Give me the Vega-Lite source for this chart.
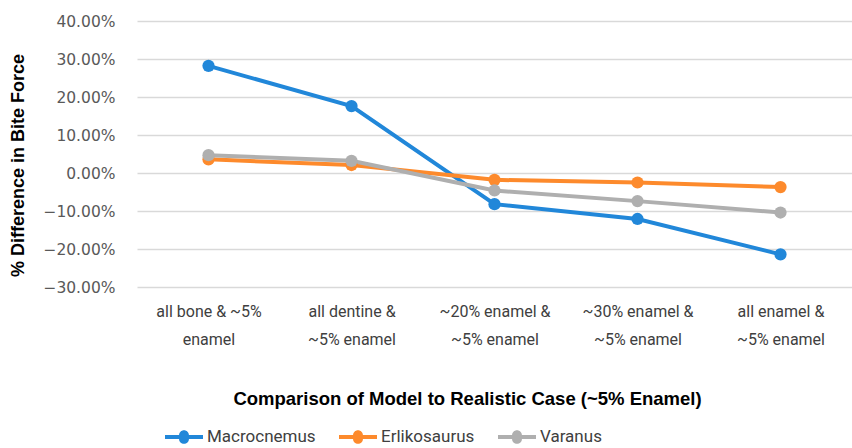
{
  "$schema": "https://vega.github.io/schema/vega-lite/v6.json",
  "width": 715,
  "height": 266,
  "autosize": {"type": "none"},
  "padding": {"left": 137, "top": 21, "right": 0, "bottom": 161},
  "background": "white",
  "config": {"view": {"stroke": null}},
  "data": {
    "values": [
      {"case": "all bone & ~5% enamel", "species": "Macrocnemus", "diff": 0.282},
      {"case": "all dentine & ~5% enamel", "species": "Macrocnemus", "diff": 0.176},
      {"case": "~20% enamel & ~5% enamel", "species": "Macrocnemus", "diff": -0.082},
      {"case": "~30% enamel & ~5% enamel", "species": "Macrocnemus", "diff": -0.121},
      {"case": "all enamel & ~5% enamel", "species": "Macrocnemus", "diff": -0.214},
      {"case": "all bone & ~5% enamel", "species": "Erlikosaurus", "diff": 0.036},
      {"case": "all dentine & ~5% enamel", "species": "Erlikosaurus", "diff": 0.021},
      {"case": "~20% enamel & ~5% enamel", "species": "Erlikosaurus", "diff": -0.018},
      {"case": "~30% enamel & ~5% enamel", "species": "Erlikosaurus", "diff": -0.025},
      {"case": "all enamel & ~5% enamel", "species": "Erlikosaurus", "diff": -0.037},
      {"case": "all bone & ~5% enamel", "species": "Varanus", "diff": 0.047},
      {"case": "all dentine & ~5% enamel", "species": "Varanus", "diff": 0.032},
      {"case": "~20% enamel & ~5% enamel", "species": "Varanus", "diff": -0.046},
      {"case": "~30% enamel & ~5% enamel", "species": "Varanus", "diff": -0.074},
      {"case": "all enamel & ~5% enamel", "species": "Varanus", "diff": -0.104}
    ]
  },
  "mark": {"type": "line", "strokeWidth": 4, "point": {"filled": true, "size": 150, "opacity": 1}},
  "encoding": {
    "x": {
      "field": "case",
      "type": "nominal",
      "sort": null,
      "scale": {"paddingOuter": 0.5, "paddingInner": 0},
      "axis": {
        "title": "Comparison of Model to Realistic Case (~5% Enamel)",
        "titleFont": "Liberation Sans",
        "titleFontSize": 18.5,
        "titleFontWeight": "bold",
        "titleColor": "#000000",
        "titleX": 330,
        "titleY": 111,
        "titleBaseline": "middle",
        "labelAngle": 0,
        "labelFont": "Roboto",
        "labelFontSize": 16,
        "labelColor": "#404040",
        "labelLineHeight": 28,
        "labelPadding": 16,
        "labelBaseline": "top",
        "labelLimit": 200,
        "labelExpr": "datum.value === 'all bone & ~5% enamel' ? ['all bone & ~5%', 'enamel'] : datum.value === 'all dentine & ~5% enamel' ? ['all dentine &', '~5% enamel'] : datum.value === '~20% enamel & ~5% enamel' ? ['~20% enamel &', '~5% enamel'] : datum.value === '~30% enamel & ~5% enamel' ? ['~30% enamel &', '~5% enamel'] : ['all enamel &', '~5% enamel']",
        "domain": false,
        "ticks": false,
        "grid": false
      }
    },
    "y": {
      "field": "diff",
      "type": "quantitative",
      "scale": {"domain": [-0.3, 0.4], "nice": false, "zero": false},
      "axis": {
        "title": "% Difference  in Bite Force",
        "titleFont": "Liberation Sans",
        "titleFontSize": 18,
        "titleFontWeight": "bold",
        "titleColor": "#000000",
        "titleAngle": 270,
        "titleX": -119,
        "titleY": 144,
        "titleAlign": "center",
        "titleBaseline": "middle",
        "format": ".2%",
        "values": [-0.3, -0.2, -0.1, 0, 0.1, 0.2, 0.3, 0.4],
        "labelFont": "DejaVu Sans",
        "labelFontSize": 15.5,
        "labelColor": "#595959",
        "labelPadding": 22,
        "domain": false,
        "ticks": false,
        "gridColor": "#d9d9d9",
        "gridWidth": 1.5
      }
    },
    "color": {
      "field": "species",
      "type": "nominal",
      "sort": ["Macrocnemus", "Erlikosaurus", "Varanus"],
      "scale": {"domain": ["Macrocnemus", "Erlikosaurus", "Varanus"], "range": ["#2187d9", "#fd8a2c", "#afafaf"]},
      "legend": {
        "title": null,
        "orient": "none",
        "direction": "horizontal",
        "legendX": 28,
        "legendY": 397,
        "symbolType": "M-1,-0.1L-0.26,-0.1A0.26,0.26 0 0 1 0.26,-0.1L1,-0.1L1,0.1L0.26,0.1A0.26,0.26 0 0 1 -0.26,0.1L-1,0.1Z",
        "symbolSize": 1444,
        "symbolStrokeWidth": 0,
        "labelFont": "Roboto",
        "labelFontSize": 17,
        "labelColor": "#404040",
        "labelOffset": 4,
        "columnPadding": 23,
        "encode": {
          "symbols": {"update": {"fill": {"scale": "color", "field": "value"}, "strokeWidth": {"value": 0}, "opacity": {"value": 1}}}
        }
      }
    }
  }
}
